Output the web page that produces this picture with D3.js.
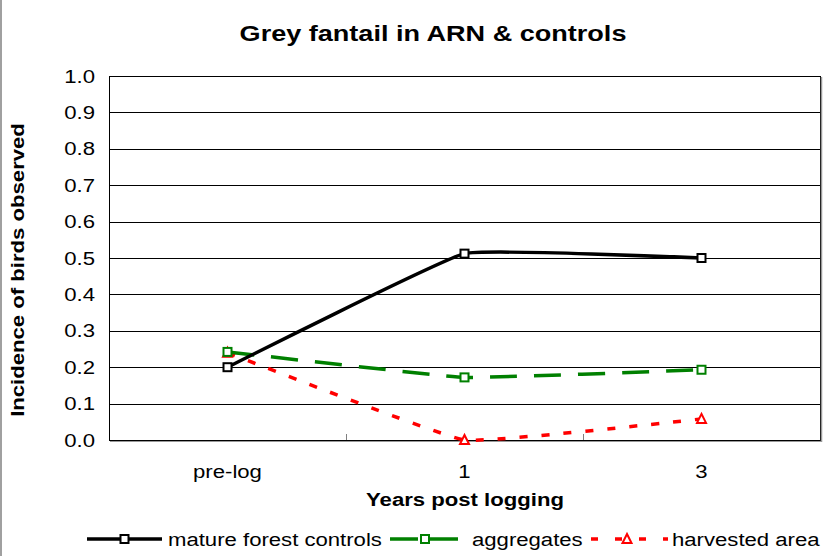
<!DOCTYPE html>
<html lang="en">
<head>
  <meta charset="UTF-8">
  <script src="https://d3js.org/d3.v7.min.js"></script>
  <style>
    body { margin: 0; background: #fff; }
    text { font-family: "Liberation Sans", Arial, sans-serif; fill: #000; }
  </style>
</head>
<body>
  <script>
    const categories = ["pre-log", "1", "3"];
    const matureControls = [0.20, 0.512, 0.50];
    const aggregates = [0.242, 0.172, 0.193];
    const harvested = [0.24, 0.0, 0.058];
    const yTicks = [0, 0.1, 0.2, 0.3, 0.4, 0.5, 0.6, 0.7, 0.8, 0.9, 1.0];

    const series = [
      { name: "mature forest controls", values: matureControls, color: "#000", dash: null, marker: "square" },
      { name: "aggregates", values: aggregates, color: "#008000", dash: "27,17", marker: "square" },
      { name: "harvested area", values: harvested, color: "#ff0000", dash: "8,14", marker: "triangle" }
    ];

    const width = 835, height = 556;
    const plot = { left: 109, right: 820, top: 76, bottom: 440 };
    const sx = 1.23; // text in the original is stretched horizontally

    const svg = d3.select("body").append("svg").attr("width", width).attr("height", height);

    function label(g, px, py, str, size, anchor, bold, extra) {
      return g.append("text")
        .attr("transform", `translate(${px},${py}) ${extra || ""} scale(${sx},1)`)
        .attr("text-anchor", anchor)
        .style("font-size", size + "px")
        .style("font-weight", bold ? "bold" : "normal")
        .text(str);
    }

    // outer chart border (left edge visible)
    svg.append("line").attr("x1", 1).attr("x2", 1).attr("y1", 0).attr("y2", height)
      .attr("stroke", "#808080").attr("stroke-width", 1.5);

    const x = d3.scaleBand().domain(categories).range([plot.left, plot.right]);
    const y = d3.scaleLinear().domain([0, 1]).range([plot.bottom, plot.top]);
    const cx = d => x(d) + x.bandwidth() / 2;

    // gridlines
    svg.append("g").selectAll("line").data(yTicks.slice(1)).join("line")
      .attr("x1", plot.left).attr("x2", plot.right)
      .attr("y1", d => Math.round(y(d)) + 0.5).attr("y2", d => Math.round(y(d)) + 0.5)
      .attr("stroke", "#000").attr("stroke-width", 1);

    // plot border
    svg.append("rect").attr("x", plot.left + 0.5).attr("y", plot.top + 0.5)
      .attr("width", plot.right - plot.left).attr("height", plot.bottom - plot.top)
      .attr("fill", "none").attr("stroke", "#000").attr("stroke-width", 1);
    svg.append("line").attr("x1", plot.right + 1.5).attr("x2", plot.right + 1.5)
      .attr("y1", plot.top + 1).attr("y2", plot.bottom + 2).attr("stroke", "#999").attr("stroke-width", 1.5);
    svg.append("line").attr("x1", plot.left + 1).attr("x2", plot.right + 2)
      .attr("y1", plot.bottom + 1.5).attr("y2", plot.bottom + 1.5).attr("stroke", "#999").attr("stroke-width", 1);

    // y tick labels
    const yl = svg.append("g");
    yTicks.forEach(d => label(yl, 95, y(d) + 6.5, d3.format(".1f")(d), 18, "end", false));

    // x ticks between categories
    svg.append("g").selectAll("line").data(categories.slice(1)).join("line")
      .attr("x1", d => Math.round(x(d)) + 0.5).attr("x2", d => Math.round(x(d)) + 0.5)
      .attr("y1", plot.bottom).attr("y2", plot.bottom - 6)
      .attr("stroke", "#808080").attr("stroke-width", 1);

    // x labels
    const xl = svg.append("g");
    categories.forEach(d => label(xl, cx(d), 478, d, 18, "middle", false));

    // titles
    label(svg, 433, 41, "Grey fantail in ARN & controls", 22, "middle", true);
    label(svg, 465, 506, "Years post logging", 18, "middle", true);
    label(svg, 24, 270, "Incidence of birds observed", 18, "middle", true, "rotate(-90)");

    const line = d3.line().x((d, i) => cx(categories[i])).y(d => y(d)).curve(d3.curveCardinal.tension(0.72));

    function drawMarker(g, type, color, px, py) {
      if (type === "square") {
        g.append("rect").attr("x", px - 4).attr("y", py - 4).attr("width", 8).attr("height", 8)
          .attr("fill", "#fff").attr("stroke", color).attr("stroke-width", 2);
      } else {
        g.append("path").attr("d", `M${px},${py - 5}L${px + 4.5},${py + 4}L${px - 4.5},${py + 4}Z`)
          .attr("fill", "#fff").attr("stroke", color).attr("stroke-width", 2);
      }
    }

    // draw series in reverse so black is on top
    series.slice().reverse().forEach(s => {
      const g = svg.append("g");
      g.append("path").attr("d", line(s.values)).attr("fill", "none")
        .attr("stroke", s.color).attr("stroke-width", 3.5)
        .attr("stroke-dasharray", s.dash);
      s.values.forEach((v, i) => drawMarker(g, s.marker, s.color, cx(categories[i]), y(v)));
    });

    // legend
    const legendItems = [
      { x0: 87, x1: 162, tx: 168, dash: null },
      { x0: 390, x1: 460, tx: 472, dash: "28,12" },
      { x0: 591, x1: 668, tx: 672, dash: "7,17" }
    ];
    const ly = 539;
    series.forEach((s, i) => {
      const li = legendItems[i];
      const g = svg.append("g");
      g.append("line").attr("x1", li.x0).attr("x2", li.x1).attr("y1", ly).attr("y2", ly)
        .attr("stroke", s.color).attr("stroke-width", 3.5)
        .attr("stroke-dasharray", li.dash);
      drawMarker(g, s.marker, s.color, i === 2 ? 627 : (li.x0 + li.x1) / 2, ly);
      label(g, li.tx, ly + 6.5, s.name, 18, "start", false);
    });
  </script>
</body>
</html>
